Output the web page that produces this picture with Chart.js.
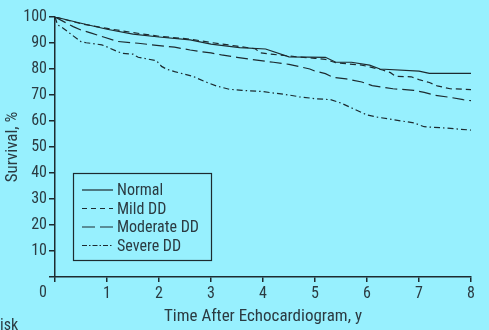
<!DOCTYPE html>
<html lang="en">
<head>
    <meta charset="UTF-8">
    <title>Survival by Diastolic Dysfunction</title>
    <script src="https://cdn.jsdelivr.net/npm/chart.js"></script>
    <style>
        body { margin: 0; background: #97f0fe; }
        #survChart { display: block; }
    </style>
</head>
<body>
    <canvas id="survChart" width="489" height="330"></canvas>

    <script>
        // Kaplan-Meier style survival curves, years vs % surviving
        const normalYears = [0, 0.5, 1, 1.5, 2, 2.6, 3, 3.55, 4.05, 4.5, 5.2, 5.4, 5.7, 6.05, 6.25, 7.0, 7.2, 8];
        const normalSurv  = [100, 97.6, 95.3, 93.4, 92.3, 91.2, 89.6, 88.2, 87.7, 84.7, 84.5, 82.6, 82.6, 81.5, 80, 79.2, 78.3, 78.3];

        const mildYears = [0, 0.5, 1, 1.5, 2, 2.6, 3, 3.5, 3.85, 3.95, 4.2, 4.7, 5, 5.2, 5.4, 5.9, 6.05, 6.3, 6.45, 6.55, 6.85, 7.0, 7.2, 7.35, 7.6, 8];
        const mildSurv  = [100, 97.4, 95.6, 94.0, 92.6, 91.5, 90.2, 88.8, 87.8, 86.2, 85.6, 84.6, 84.1, 83.7, 82.4, 81.5, 80.8, 79.6, 78.6, 77.2, 77.0, 75.9, 74.8, 73.5, 72.4, 72.1];

        const moderateYears = [0, 0.35, 0.5, 0.7, 0.95, 1.2, 1.6, 2, 2.3, 2.6, 2.8, 3.0, 3.2, 3.5, 3.8, 4.2, 4.5, 4.7, 4.9, 5.0, 5.2, 5.35, 5.6, 5.9, 6.1, 6.5, 6.9, 7.1, 7.3, 7.6, 7.85, 8];
        const moderateSurv  = [100, 96.3, 95, 93.8, 92.2, 90.6, 89.9, 89.0, 88.4, 87.3, 86.7, 86.2, 85.4, 84.5, 83.6, 82.6, 81.8, 80.9, 80, 79.2, 78.2, 76.8, 76.2, 75, 73.6, 72.4, 71.8, 71, 69.9, 69.1, 68.2, 67.8];

        const severeYears = [0, 0.05, 0.15, 0.3, 0.5, 0.6, 0.9, 1.0, 1.2, 1.3, 1.5, 1.6, 1.95, 2.05, 2.15, 2.3, 2.65, 2.9, 3.1, 3.35, 3.6, 4.0, 4.5, 4.7, 5.0, 5.3, 5.5, 5.75, 6.0, 6.2, 6.5, 6.9, 7.1, 7.5, 8];
        const severeSurv  = [100, 97, 95.8, 93.5, 90.5, 90.1, 89.3, 88.5, 86.7, 86, 85.7, 84.5, 83.2, 81, 79.9, 79, 77.2, 75, 73.5, 72.2, 71.8, 71.3, 70, 69.3, 68.6, 68.2, 66.9, 64.6, 62.3, 61.5, 60.5, 59.3, 57.8, 57.3, 56.5];

        const seriesNames = ['Normal', 'Mild DD', 'Moderate DD', 'Severe DD'];
        const yTicks = [0, 10, 20, 30, 40, 50, 60, 70, 80, 90, 100];
        const xTicks = [0, 1, 2, 3, 4, 5, 6, 7, 8];

        const INK = '#1d2b30';
        const TEXT = '#2b3b42';
        const FONT = "'Roboto Condensed', 'Liberation Sans Narrow', sans-serif";

        const dashes = [[], [6, 4], [12, 5], [6, 3, 1.5, 3]];
        const legendDashes = [[], [5, 4], [13, 5], [5, 2, 1.5, 2]];

        function toPoints(xs, ys) {
            return xs.map((x, i) => ({ x: x, y: ys[i] }));
        }

        const allSeries = [
            toPoints(normalYears, normalSurv),
            toPoints(mildYears, mildSurv),
            toPoints(moderateYears, moderateSurv),
            toPoints(severeYears, severeSurv)
        ];

        // legend box, the stray "0" at the origin and the cut-off footer text
        const extras = {
            id: 'extras',
            afterDraw(chart) {
                const c = chart.ctx;
                c.save();
                c.strokeStyle = INK;
                c.lineWidth = 1.2;
                c.strokeRect(73.5, 173.5, 138, 87);

                c.font = '16px ' + FONT;
                c.fillStyle = TEXT;
                c.textBaseline = 'middle';
                const rows = [190, 208.5, 227, 245.5];
                seriesNames.forEach((name, i) => {
                    c.beginPath();
                    c.setLineDash(legendDashes[i]);
                    c.lineWidth = 1.2;
                    c.moveTo(82, rows[i]);
                    c.lineTo(113, rows[i]);
                    c.stroke();
                    c.setLineDash([]);
                    c.fillText(name, 117, rows[i] + 1);
                });

                const x0 = chart.scales.x.getPixelForValue(0);
                c.textAlign = 'center';
                c.fillText('0', x0 - 12, 293);

                c.textAlign = 'left';
                c.textBaseline = 'top';
                c.fillText('isk', 0, 318);
                c.restore();
            }
        };

        const chart = new Chart(document.getElementById('survChart'), {
            type: 'line',
            data: {
                datasets: allSeries.map((pts, i) => ({
                    label: seriesNames[i],
                    data: pts,
                    borderColor: INK,
                    borderWidth: 1.2,
                    borderDash: dashes[i],
                    pointRadius: 0,
                    tension: 0,
                    fill: false
                }))
            },
            options: {
                responsive: false,
                animation: false,
                layout: { padding: { top: 17, right: 18, left: 0, bottom: 0 } },
                plugins: {
                    legend: { display: false },
                    tooltip: { enabled: false }
                },
                scales: {
                    x: {
                        type: 'linear',
                        min: 0,
                        max: 8,
                        afterBuildTicks: s => { s.ticks = xTicks.map(v => ({ value: v })); },
                        afterFit: s => { s.height = 53; },
                        border: { display: true, color: INK, width: 1.5 },
                        grid: { drawOnChartArea: false, drawTicks: true, tickLength: 5, color: INK, lineWidth: 1.5 },
                        ticks: {
                            color: TEXT,
                            font: { family: FONT, size: 16 },
                            padding: 2,
                            maxRotation: 0,
                            callback: v => v === 0 ? '' : v
                        },
                        title: {
                            display: true,
                            text: 'Time After Echocardiogram, y',
                            color: TEXT,
                            font: { family: FONT, size: 17 },
                            padding: { top: 0, bottom: 3 }
                        }
                    },
                    y: {
                        min: 0,
                        max: 100,
                        afterBuildTicks: s => { s.ticks = yTicks.map(v => ({ value: v })); },
                        afterFit: s => { s.width = 55; },
                        border: { display: true, color: INK, width: 1.5 },
                        grid: { drawOnChartArea: false, drawTicks: true, tickLength: 6, color: INK, lineWidth: 1.5 },
                        ticks: {
                            color: TEXT,
                            font: { family: FONT, size: 16 },
                            padding: 2,
                            callback: v => v === 0 ? '' : v
                        },
                        title: {
                            display: true,
                            text: 'Survival, %',
                            color: TEXT,
                            font: { family: FONT, size: 17 },
                            padding: { top: 3, bottom: 0 }
                        }
                    }
                }
            },
            plugins: [extras]
        });
    </script>
</body>
</html>
